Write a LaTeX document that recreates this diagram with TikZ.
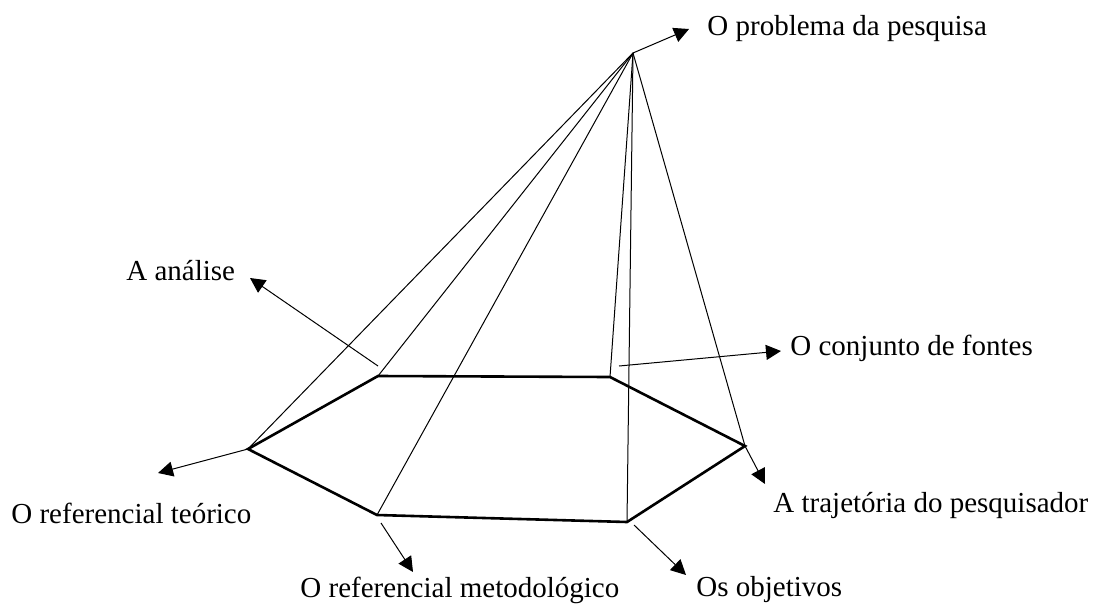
\documentclass[tikz,border=0pt]{standalone}
\usepackage{fontspec}
\setmainfont{Liberation Serif}
\usetikzlibrary{arrows.meta}

\begin{document}
\begin{tikzpicture}[x=0.5pt,y=-0.5pt,
  lbl/.style={font=\fontsize{14.5}{17}\selectfont, inner sep=0pt, anchor=base west},
  edge/.style={line width=0.5pt},
  base/.style={line width=1.3pt, line join=miter},
  arr/.style={-{Triangle[length=7.5pt,width=7.5pt]}, line width=0.5pt}]
\useasboundingbox (0,0) rectangle (1096,605);

% apex and base of the pyramid
\coordinate (top) at (633,53);
\coordinate (analise) at (378,376);
\coordinate (fontes) at (610,377);
\coordinate (trajetoria) at (745,446);
\coordinate (objetivos) at (627,522);
\coordinate (metodologico) at (377,515);
\coordinate (teorico) at (248,449);

\draw[base] (analise) -- (fontes) -- (trajetoria) -- (objetivos) -- (metodologico) -- (teorico) -- cycle;

\foreach \to in {analise, fontes, trajetoria, objetivos, metodologico, teorico}
	\draw[edge] (top) -- (\to);

% labels
\node[lbl] (problemaL) at (707,35) {O problema da pesquisa};
\node[lbl] (analiseL) at (126,280) {A análise};
\node[lbl] (fontesL) at (790,355) {O conjunto de fontes};
\node[lbl] (teoricoL) at (11,523) {O referencial teórico};
\node[lbl] (trajetoriaL) at (773,512) {A trajetória do pesquisador};
\node[lbl] (objetivosL) at (696,596) {Os objetivos};
\node[lbl] (metodologicoL) at (300,597) {O referencial metodológico};

% arrow tails and tips
\coordinate (analiseA) at (378,366);
\coordinate (fontesA) at (619,366);
\coordinate (objetivosA) at (634,525);
\coordinate (metodologicoA) at (381,523);

\coordinate (problemaT) at (689,29);
\coordinate (analiseT) at (250,278);
\coordinate (fontesT) at (781,351);
\coordinate (teoricoT) at (158,473);
\coordinate (trajetoriaT) at (765,484);
\coordinate (objetivosT) at (686,575);
\coordinate (metodologicoT) at (413,572);

\foreach \from/\to in {top/problemaT, analiseA/analiseT, fontesA/fontesT, teorico/teoricoT, trajetoria/trajetoriaT, objetivosA/objetivosT, metodologicoA/metodologicoT}
	\draw[arr] (\from) -- (\to);

\end{tikzpicture}
\end{document}
